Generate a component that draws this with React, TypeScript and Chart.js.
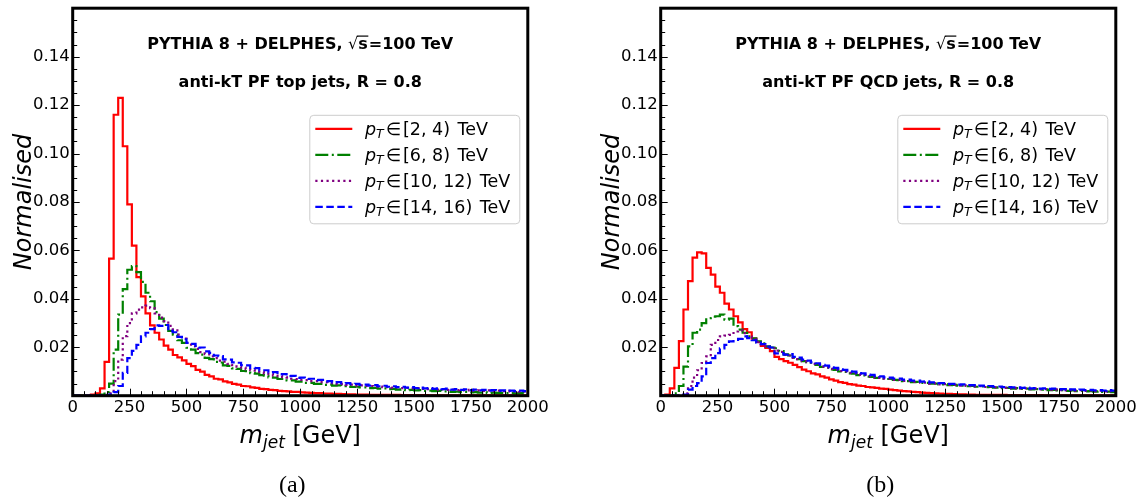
import React, { useEffect, useRef } from "react";
import { Chart, registerables } from "chart.js";

Chart.register(...registerables);

// ---------- data ----------
// mass bins: 20 GeV wide, 0 .. 2000 GeV (left edges + final right edge)
const massBinEdges: number[] = Array.from({ length: 101 }, (_, i) => i * 20);

const ptBinLabels = ["[2, 4)", "[6, 8)", "[10, 12)", "[14, 16)"];
const seriesColors = ["#ff0000", "#008000", "#800080", "#0000ff"];

const xTickStep = 250;
const xMinorStep = 50;
const yTickStep = 0.02;
const yMinorStep = 0.005;
const xMax = 2000;
const yMax = 0.16;

const panelJetKinds = ["top", "QCD"];
const panelCaptions = ["(a)", "(b)"];

// panel (a): top jets
const topPt2to4 = [
  0, 0, 0, 0, 0.0005, 0.001, 0.003, 0.014, 0.0566, 0.116,
  0.123, 0.103, 0.079, 0.062, 0.049, 0.041, 0.034, 0.029, 0.026, 0.0232,
  0.0207, 0.019, 0.0168, 0.0158, 0.0146, 0.0131, 0.0122, 0.0107, 0.0099, 0.0086,
  0.008, 0.007, 0.0067, 0.0059, 0.0055, 0.0049, 0.0046, 0.004, 0.0039, 0.0034,
  0.0032, 0.0028, 0.0027, 0.0024, 0.0023, 0.002, 0.0019, 0.0018, 0.0016, 0.0016,
  0.0014, 0.0013, 0.0012, 0.0011, 0.0011, 0.0009, 0.0009, 0.0008, 0.0008, 0.0007,
  0.0006, 0.0006, 0.0005, 0.0005, 0.0005, 0.0004, 0.0004, 0.0004, 0.0003, 0.0003,
  0.0003, 0.0003, 0.0002, 0.0002, 0.0002, 0.0002, 0.0002, 0.0002, 0.0001, 0.0001,
  0.0001, 0.0001, 0.0001, 0.0001, 0.0001, 0.0001, 0.0001, 0.0001, 0.0001, 0.0001,
  0.0001, 0.0001, 0.0001, 0.0001, 0.0001, 0.0001, 0.0001, 0.0001, 0.0001, 0.0001,
];
const topPt6to8 = [
  0, 0, 0, 0, 0, 0, 0.0005, 0.0015, 0.005, 0.019,
  0.0335, 0.044, 0.052, 0.0535, 0.051, 0.047, 0.0425, 0.039, 0.0345, 0.0318,
  0.0292, 0.0268, 0.0252, 0.0229, 0.0218, 0.0198, 0.019, 0.0176, 0.017, 0.0156,
  0.0151, 0.014, 0.0137, 0.0125, 0.0123, 0.0113, 0.0111, 0.0102, 0.0101, 0.0093,
  0.0091, 0.0085, 0.0083, 0.0076, 0.0075, 0.0069, 0.0069, 0.0063, 0.0063, 0.0058,
  0.0058, 0.0053, 0.0053, 0.0049, 0.0049, 0.0045, 0.0046, 0.0042, 0.0043, 0.0039,
  0.004, 0.0036, 0.0037, 0.0034, 0.0034, 0.0031, 0.0032, 0.0029, 0.003, 0.0027,
  0.0028, 0.0025, 0.0026, 0.0023, 0.0024, 0.0022, 0.0023, 0.002, 0.0021, 0.0019,
  0.002, 0.0018, 0.0018, 0.0016, 0.0017, 0.0015, 0.0016, 0.0014, 0.0015, 0.0013,
  0.0014, 0.0012, 0.0013, 0.0012, 0.0012, 0.0011, 0.0012, 0.001, 0.0011, 0.001,
];
const topPt10to12 = [
  0, 0, 0, 0, 0, 0, 0, 0.0003, 0.001, 0.006,
  0.0149, 0.0246, 0.03, 0.034, 0.0355, 0.0365, 0.0372, 0.0362, 0.034, 0.0322,
  0.0308, 0.0288, 0.027, 0.0252, 0.0236, 0.0218, 0.0204, 0.0193, 0.018, 0.0172,
  0.0162, 0.0155, 0.0145, 0.0141, 0.0131, 0.0126, 0.012, 0.0116, 0.0109, 0.0106,
  0.0099, 0.0097, 0.0091, 0.0089, 0.0083, 0.0081, 0.0077, 0.0075, 0.007, 0.0069,
  0.0065, 0.0064, 0.006, 0.006, 0.0056, 0.0055, 0.0052, 0.0052, 0.0048, 0.0049,
  0.0045, 0.0046, 0.0042, 0.0043, 0.004, 0.004, 0.0037, 0.0038, 0.0035, 0.0036,
  0.0033, 0.0034, 0.0031, 0.0032, 0.003, 0.0031, 0.0028, 0.0029, 0.0027, 0.0028,
  0.0025, 0.0027, 0.0024, 0.0025, 0.0023, 0.0024, 0.0022, 0.0024, 0.0021, 0.0022,
  0.002, 0.0022, 0.0019, 0.0021, 0.0019, 0.002, 0.0018, 0.0019, 0.0017, 0.0018,
];
const topPt14to16 = [
  0, 0, 0, 0, 0, 0, 0, 0, 0.0005, 0.0015,
  0.004, 0.0094, 0.0155, 0.0185, 0.021, 0.0245, 0.026, 0.0275, 0.029, 0.0288,
  0.0292, 0.0268, 0.0262, 0.0243, 0.0233, 0.0218, 0.0214, 0.0198, 0.0199, 0.0183,
  0.0177, 0.0166, 0.0163, 0.015, 0.0149, 0.0138, 0.0136, 0.0126, 0.0125, 0.0115,
  0.0114, 0.0105, 0.0105, 0.0096, 0.0097, 0.0088, 0.0089, 0.0081, 0.0082, 0.0074,
  0.0075, 0.0069, 0.007, 0.0064, 0.0065, 0.0059, 0.006, 0.0055, 0.0056, 0.0051,
  0.0052, 0.0048, 0.0049, 0.0045, 0.0046, 0.0042, 0.0044, 0.0039, 0.0041, 0.0037,
  0.0039, 0.0035, 0.0037, 0.0033, 0.0035, 0.0031, 0.0033, 0.003, 0.0031, 0.0028,
  0.003, 0.0027, 0.0029, 0.0025, 0.0027, 0.0024, 0.0026, 0.0023, 0.0025, 0.0022,
  0.0024, 0.0021, 0.0023, 0.002, 0.0022, 0.002, 0.0021, 0.0019, 0.0021, 0.0019,
];

// panel (b): QCD jets
const qcdPt2to4 = [
  0, 0.0005, 0.003, 0.0115, 0.0225, 0.0356, 0.0473, 0.057, 0.0592, 0.0588,
  0.0528, 0.05, 0.045, 0.0425, 0.038, 0.0356, 0.0328, 0.0303, 0.0275, 0.0262,
  0.0236, 0.0222, 0.0206, 0.0197, 0.0184, 0.016, 0.0151, 0.0143, 0.0136, 0.0127,
  0.0118, 0.0108, 0.0101, 0.0092, 0.0088, 0.008, 0.0075, 0.0067, 0.0062, 0.0056,
  0.0053, 0.0048, 0.0046, 0.0042, 0.004, 0.0036, 0.0034, 0.0032, 0.0029, 0.0028,
  0.0025, 0.0023, 0.0021, 0.0019, 0.0018, 0.0016, 0.0015, 0.0013, 0.0012, 0.0011,
  0.001, 0.0009, 0.0008, 0.0008, 0.0007, 0.0006, 0.0006, 0.0005, 0.0005, 0.0004,
  0.0004, 0.0004, 0.0003, 0.0003, 0.0003, 0.0003, 0.0002, 0.0002, 0.0002, 0.0002,
  0.0002, 0.0002, 0.0001, 0.0002, 0.0001, 0.0001, 0.0001, 0.0001, 0.0001, 0.0001,
  0.0001, 0.0001, 0.0001, 0.0001, 0.0001, 0.0001, 0.0001, 0.0001, 0.0001, 0.0001,
];
const qcdPt6to8 = [
  0, 0, 0, 0.001, 0.004, 0.012, 0.0204, 0.026, 0.0273, 0.03,
  0.032, 0.0326, 0.0328, 0.0335, 0.0314, 0.0318, 0.0287, 0.0273, 0.026, 0.0245,
  0.0237, 0.0224, 0.0216, 0.0204, 0.0199, 0.0196, 0.0184, 0.0171, 0.0166, 0.0157,
  0.0151, 0.0143, 0.0139, 0.0131, 0.0127, 0.0119, 0.0116, 0.0109, 0.0107, 0.01,
  0.0098, 0.0092, 0.0091, 0.0085, 0.0084, 0.0079, 0.0078, 0.0074, 0.0073, 0.0069,
  0.0069, 0.0065, 0.0064, 0.006, 0.006, 0.0056, 0.0057, 0.0053, 0.0053, 0.005,
  0.005, 0.0047, 0.0048, 0.0044, 0.0045, 0.0042, 0.0042, 0.0039, 0.004, 0.0037,
  0.0038, 0.0035, 0.0036, 0.0033, 0.0034, 0.0031, 0.0032, 0.0029, 0.0031, 0.0028,
  0.0029, 0.0026, 0.0027, 0.0025, 0.0026, 0.0023, 0.0024, 0.0022, 0.0023, 0.002,
  0.0022, 0.0019, 0.002, 0.0018, 0.0019, 0.0017, 0.0018, 0.0016, 0.0017, 0.0015,
];
const qcdPt10to12 = [
  0, 0, 0, 0, 0, 0.001, 0.004, 0.0075, 0.0105, 0.0135,
  0.0162, 0.021, 0.023, 0.0245, 0.0248, 0.0251, 0.0265, 0.027, 0.0258, 0.0245,
  0.0233, 0.0221, 0.0213, 0.0202, 0.0196, 0.0186, 0.0181, 0.017, 0.0166, 0.0156,
  0.0151, 0.0143, 0.0139, 0.0131, 0.0128, 0.012, 0.0117, 0.0111, 0.0108, 0.0102,
  0.01, 0.0094, 0.0092, 0.0087, 0.0086, 0.0081, 0.008, 0.0075, 0.0074, 0.007,
  0.007, 0.0065, 0.0065, 0.0061, 0.0061, 0.0057, 0.0057, 0.0054, 0.0054, 0.005,
  0.0051, 0.0047, 0.0048, 0.0045, 0.0045, 0.0042, 0.0043, 0.004, 0.0041, 0.0038,
  0.0039, 0.0036, 0.0037, 0.0034, 0.0035, 0.0032, 0.0033, 0.003, 0.0032, 0.0029,
  0.003, 0.0027, 0.0029, 0.0026, 0.0027, 0.0025, 0.0026, 0.0023, 0.0025, 0.0022,
  0.0024, 0.0021, 0.0023, 0.002, 0.0022, 0.0019, 0.0021, 0.0018, 0.002, 0.0018,
];
const qcdPt14to16 = [
  0, 0, 0, 0, 0, 0.0005, 0.0025, 0.004, 0.0052, 0.008,
  0.0135, 0.0155, 0.0176, 0.0195, 0.021, 0.0224, 0.023, 0.0235, 0.0245, 0.0238,
  0.0229, 0.0219, 0.0213, 0.0203, 0.0199, 0.0175, 0.0176, 0.017, 0.0172, 0.016,
  0.0157, 0.0149, 0.0145, 0.0138, 0.0134, 0.0127, 0.0124, 0.0117, 0.0115, 0.0109,
  0.0107, 0.0101, 0.0099, 0.0093, 0.0092, 0.0087, 0.0086, 0.0081, 0.008, 0.0076,
  0.0075, 0.0071, 0.0071, 0.0066, 0.0066, 0.0062, 0.0062, 0.0058, 0.0059, 0.0055,
  0.0055, 0.0052, 0.0052, 0.0049, 0.0049, 0.0046, 0.0047, 0.0044, 0.0044, 0.0041,
  0.0042, 0.0039, 0.004, 0.0037, 0.0038, 0.0035, 0.0036, 0.0034, 0.0034, 0.0032,
  0.0033, 0.003, 0.0031, 0.0029, 0.003, 0.0028, 0.0029, 0.0026, 0.0027, 0.0025,
  0.0026, 0.0024, 0.0025, 0.0023, 0.0024, 0.0022, 0.0023, 0.0021, 0.0023, 0.0021,
];

const panelSeries = [
  [topPt2to4, topPt6to8, topPt10to12, topPt14to16],
  [qcdPt2to4, qcdPt6to8, qcdPt10to12, qcdPt14to16],
];

// ---------- styling ----------
const FONT = '"DejaVu Sans", sans-serif';
const LINE_W = 2.2;
const seriesDashes: number[][] = [[], [13, 3.5, 2, 3.5], [2.2, 3.4], [7.5, 3.5]];

type Piece = { t: string; f: string; dy?: number; pre?: number };

function piecesWidth(ctx: CanvasRenderingContext2D, pieces: Piece[]) {
  let w = 0;
  for (const p of pieces) {
    ctx.font = p.f;
    w += (p.pre || 0) + ctx.measureText(p.t).width;
  }
  return w;
}

function drawPieces(ctx: CanvasRenderingContext2D, pieces: Piece[], x: number, y: number) {
  let cx = x;
  const spans: [number, number][] = [];
  for (const p of pieces) {
    cx += p.pre || 0;
    ctx.font = p.f;
    const w = ctx.measureText(p.t).width;
    ctx.fillText(p.t, cx, y + (p.dy || 0));
    spans.push([cx, cx + w]);
    cx += w;
  }
  return spans;
}

function Panel({ index }: { index: number }) {
  const ref = useRef<HTMLCanvasElement | null>(null);

  useEffect(() => {
    const canvas = ref.current;
    if (!canvas) return;
    const series = panelSeries[index];
    const jetKind = panelJetKinds[index];
    const caption = panelCaptions[index];

    const decor = {
      id: "decor" + index,
      afterDraw(chart: any) {
        const { ctx, chartArea: a, scales } = chart;
        const xs = scales.x;
        const ys = scales.y;
        ctx.save();
        ctx.fillStyle = "#000";
        ctx.strokeStyle = "#000";
        ctx.setLineDash([]);
        // inward ticks
        ctx.lineWidth = 1;
        for (let k = 0; k * xMinorStep <= xMax; k++) {
          const v = k * xMinorStep;
          const px = Math.round(xs.getPixelForValue(v)) + 0.5;
          const len = v % xTickStep === 0 ? 7 : 4.5;
          ctx.beginPath();
          ctx.moveTo(px, a.bottom);
          ctx.lineTo(px, a.bottom - len);
          ctx.stroke();
        }
        const nMinor = Math.round(yMax / yMinorStep);
        const perMajor = Math.round(yTickStep / yMinorStep);
        for (let k = 0; k <= nMinor; k++) {
          const py = Math.round(ys.getPixelForValue(k * yMinorStep)) + 0.5;
          const len = k % perMajor === 0 ? 7 : 4.5;
          ctx.beginPath();
          ctx.moveTo(a.left, py);
          ctx.lineTo(a.left + len, py);
          ctx.stroke();
        }
        // frame
        ctx.lineWidth = 3;
        ctx.strokeRect(a.left, a.top, a.right - a.left, a.bottom - a.top);

        const cx = (a.left + a.right) / 2;
        ctx.textBaseline = "alphabetic";
        ctx.textAlign = "left";

        // title line 1
        const t1: Piece[] = [
          { t: "PYTHIA 8 + DELPHES, ", f: `bold 16px ${FONT}` },
          { t: "\u221A", f: `16px ${FONT}` },
          { t: "s", f: `bold 16px ${FONT}` },
          { t: "=100 TeV", f: `bold 16px ${FONT}`, pre: 1 },
        ];
        const w1 = piecesWidth(ctx, t1);
        const b1 = a.top + 40.5;
        const sp = drawPieces(ctx, t1, cx - w1 / 2, b1);
        ctx.lineWidth = 1.2;
        ctx.beginPath();
        ctx.moveTo(sp[1][1] - 1.5, b1 - 12.6);
        ctx.lineTo(sp[2][1] + 0.5, b1 - 12.6);
        ctx.stroke();

        // title line 2
        const t2: Piece[] = [{ t: `anti-kT PF ${jetKind} jets, R = 0.8`, f: `bold 16px ${FONT}` }];
        const w2 = piecesWidth(ctx, t2);
        drawPieces(ctx, t2, cx - w2 / 2, a.top + 79);

        // legend
        const boxL = a.right - 218.5;
        const boxR = a.right - 8.5;
        const boxT = a.top + 106.6;
        const boxB = a.top + 215.1;
        ctx.beginPath();
        ctx.roundRect(boxL + 0.5, boxT + 0.5, boxR - boxL, boxB - boxT, 4);
        ctx.fillStyle = "rgba(255,255,255,0.8)";
        ctx.fill();
        ctx.strokeStyle = "#cccccc";
        ctx.lineWidth = 1;
        ctx.stroke();
        ctx.fillStyle = "#000";
        for (let i = 0; i < ptBinLabels.length; i++) {
          const ry = a.top + 120.7 + i * 26;
          ctx.strokeStyle = seriesColors[i];
          ctx.lineWidth = LINE_W;
          ctx.setLineDash(seriesDashes[i]);
          ctx.beginPath();
          ctx.moveTo(boxL + 6, ry);
          ctx.lineTo(boxL + 43, ry);
          ctx.stroke();
          ctx.setLineDash([]);
          const lp: Piece[] = [
            { t: "p", f: `italic 17.5px ${FONT}` },
            { t: "T", f: `italic 12.5px ${FONT}`, dy: 3.5 },
            { t: "\u2208", f: `17.5px ${FONT}`, pre: 2 },
            { t: ptBinLabels[i], f: `17.5px ${FONT}`, pre: 2 },
            { t: " TeV", f: `17.5px ${FONT}`, pre: 2 },
          ];
          drawPieces(ctx, lp, boxL + 55.7, ry + 6);
        }

        // y axis title
        ctx.save();
        ctx.translate(25, (a.top + a.bottom) / 2);
        ctx.rotate(-Math.PI / 2);
        ctx.textAlign = "center";
        ctx.textBaseline = "middle";
        ctx.font = `italic 24px ${FONT}`;
        ctx.fillText("Normalised", 0, 0);
        ctx.restore();

        // x axis title
        const xt: Piece[] = [
          { t: "m", f: `italic 24px ${FONT}` },
          { t: "jet", f: `italic 17px ${FONT}`, dy: 5 },
          { t: " [GeV]", f: `24px ${FONT}` },
        ];
        const wx = piecesWidth(ctx, xt);
        drawPieces(ctx, xt, cx - wx / 2, a.bottom + 47);

        // caption
        ctx.font = `24px "Liberation Serif", serif`;
        ctx.textAlign = "center";
        ctx.fillText(caption, cx - 8, a.bottom + 96);
        ctx.restore();
      },
    };

    const chart = new Chart(canvas, {
      type: "line",
      data: {
        datasets: series.map((vals, i) => ({
          label: ptBinLabels[i],
          data: massBinEdges.map((edge, j) => ({ x: edge, y: vals[Math.min(j, vals.length - 1)] })),
          borderColor: seriesColors[i],
          borderWidth: LINE_W,
          borderDash: seriesDashes[i],
          borderCapStyle: "butt",
          borderJoinStyle: "miter",
          pointRadius: 0,
          stepped: "before",
          fill: false,
          order: 3 - i,
        })),
      },
      options: {
        responsive: false,
        animation: false,
        devicePixelRatio: 1,
        events: [],
        layout: { padding: { left: 0, top: 8.2, right: 22.2, bottom: 0 } },
        plugins: { legend: { display: false }, tooltip: { enabled: false } },
        scales: {
          x: {
            type: "linear",
            min: 0,
            max: xMax,
            grid: { display: false, drawTicks: false },
            border: { display: false },
            ticks: {
              stepSize: xTickStep,
              autoSkip: false,
              maxRotation: 0,
              padding: 2,
              color: "#000",
              font: { family: "DejaVu Sans", size: 16.5 },
              callback: (v: any) => String(Math.round(Number(v))),
            },
            afterFit: (s: any) => {
              s.height = 502 - 395.7;
              s.paddingLeft = 0;
              s.paddingRight = 0;
            },
          },
          y: {
            type: "linear",
            min: 0,
            max: yMax,
            grid: { display: false, drawTicks: false },
            border: { display: false },
            ticks: {
              stepSize: yTickStep,
              padding: 3,
              color: "#000",
              font: { family: "DejaVu Sans", size: 16.5 },
              callback: (v: any) => {
                const n = Number(v);
                if (n < 1e-6 || n > yMax - 0.005) return "";
                return n.toFixed(2);
              },
            },
            afterFit: (s: any) => {
              s.width = 72.7;
              s.paddingTop = 0;
              s.paddingBottom = 0;
            },
          },
        },
      },
      plugins: [decor],
    } as any);

    return () => chart.destroy();
  }, [index]);

  return (
    <canvas
      ref={ref}
      width={550}
      height={502}
      style={{ position: "absolute", left: index * 588, top: 0, width: 550, height: 502 }}
    />
  );
}

export default function App() {
  return (
    <div style={{ position: "absolute", left: 0, top: 0, width: 1138, height: 502, background: "#fff", overflow: "hidden" }}>
      <Panel index={0} />
      <Panel index={1} />
    </div>
  );
}
